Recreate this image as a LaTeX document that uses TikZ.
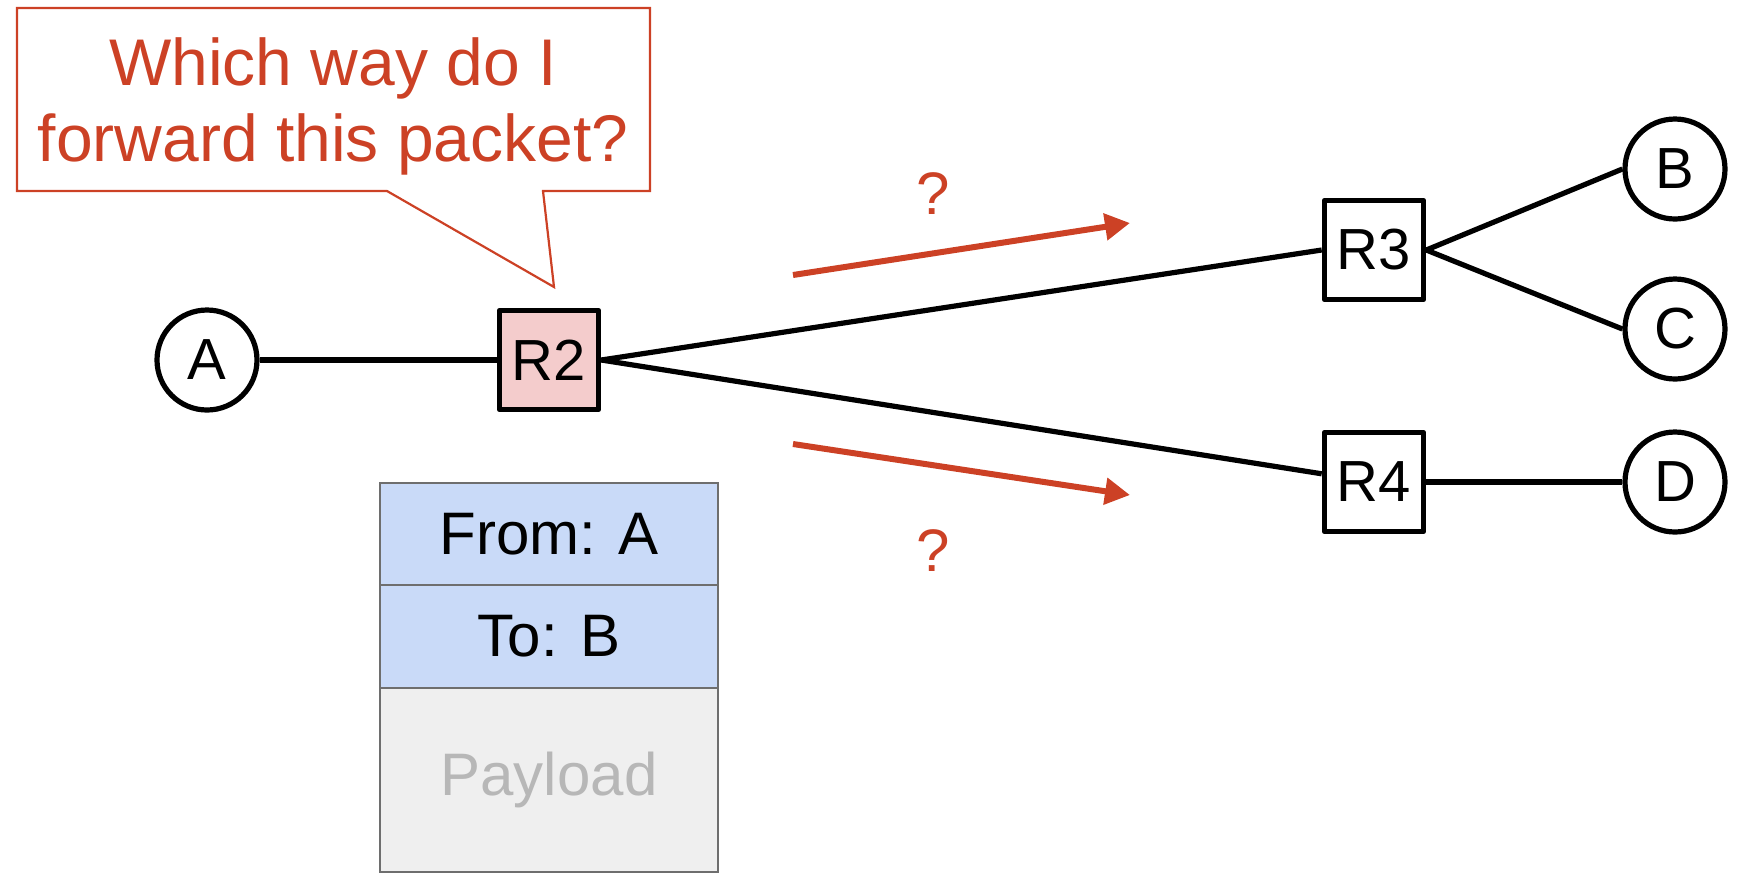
\documentclass[tikz,border=0pt]{standalone}
\usepackage{fontspec}
\setmainfont{Liberation Sans}
\usetikzlibrary{arrows.meta}
\definecolor{berry}{HTML}{CC4125}
\definecolor{routerpink}{HTML}{F4CCCC}
\definecolor{headerblue}{HTML}{C9DAF8}
\definecolor{payloadgray}{HTML}{EFEFEF}
\definecolor{fieldline}{HTML}{6E6E6E}
\definecolor{payloadtext}{HTML}{B7B7B7}
\begin{document}
\begin{tikzpicture}[x=0.5pt,y=-0.5pt]
\tikzstyle{host}=[circle,draw,line width=2.6pt,minimum size=50pt,inner sep=0pt,font=\fontsize{29}{29}\selectfont]
\tikzstyle{router}=[rectangle,draw,line width=2.8pt,line join=round,minimum size=49.5pt,inner sep=0pt,font=\fontsize{29}{29}\selectfont]
\tikzstyle{link}=[line width=2.6pt]
\tikzstyle{guess}=[draw=berry,line width=3pt,-{Triangle[length=12.5pt,width=13pt]}]
\tikzstyle{field}=[draw=fieldline,line width=1.4pt,minimum width=169pt,inner sep=0pt,font=\fontsize{30}{30}\selectfont]
\useasboundingbox (0,0) rectangle (1737,875);
% hosts and routers
\node[host] (A) at (207,360) {A};
\node[router,fill=routerpink] (R2) at (549,360) {R2};
\node[router] (R3) at (1374,250) {R3};
\node[router] (R4) at (1374,482) {R4};
\node[host] (B) at (1675,169) {B};
\node[host] (C) at (1675,329) {C};
\node[host] (D) at (1675,482) {D};
\draw[link] (A) -- (R2);
\draw[link] (R2.east) -- (R3.west);
\draw[link] (R2.east) -- (R4);
\draw[link] (R3.east) -- (B.west);
\draw[link] (R3.east) -- (C.west);
\draw[link] (R4) -- (D);
% speech bubble
\draw[berry,line width=1.1pt] (17,8) -- (650,8) -- (650,191) -- (543,191) -- (554,287)
  -- (387,191) -- (17,191) -- cycle;
\node[text=berry,align=center,inner sep=0pt,font=\fontsize{33}{38}\selectfont] (ask) at (333,106)
  {Which way do I\\forward this packet?};
% possible directions
\coordinate (up0) at (793,275);
\coordinate (up1) at (1130,223);
\coordinate (dn0) at (793,444);
\coordinate (dn1) at (1130,495);
\draw[guess] (up0) -- (up1);
\draw[guess] (dn0) -- (dn1);
\node[text=berry,font=\fontsize{30}{30}\selectfont] (q1) at (933,194) {?};
\node[text=berry,font=\fontsize{30}{30}\selectfont] (q2) at (933,551) {?};
% packet
\node[field,fill=headerblue,minimum height=51pt] (from) at (549,534) {From: A};
\node[field,fill=headerblue,minimum height=51.5pt] (to) at (549,636.5) {To: B};
\node[field,fill=payloadgray,minimum height=92pt,text=payloadtext] (payload) at (549,780) {Payload};
\end{tikzpicture}
\end{document}
